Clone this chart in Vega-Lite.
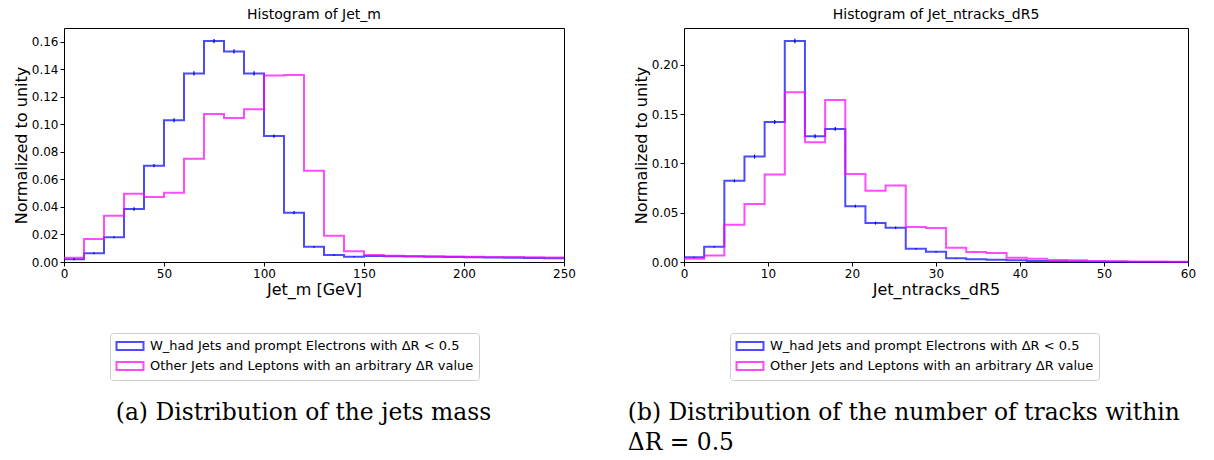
{
  "$schema": "https://vega.github.io/schema/vega-lite/v6.json",
  "background": "white",
  "padding": {"left": 12, "top": 7, "right": 0, "bottom": 0},
  "spacing": 51,
  "datasets": {
    "m": [
      {"series": "W_had Jets and prompt Electrons with ΔR < 0.5", "x": 0, "y": 0.002},
      {"series": "W_had Jets and prompt Electrons with ΔR < 0.5", "x": 10, "y": 0.0063},
      {"series": "W_had Jets and prompt Electrons with ΔR < 0.5", "x": 20, "y": 0.018},
      {"series": "W_had Jets and prompt Electrons with ΔR < 0.5", "x": 30, "y": 0.0385},
      {"series": "W_had Jets and prompt Electrons with ΔR < 0.5", "x": 40, "y": 0.070},
      {"series": "W_had Jets and prompt Electrons with ΔR < 0.5", "x": 50, "y": 0.103},
      {"series": "W_had Jets and prompt Electrons with ΔR < 0.5", "x": 60, "y": 0.137},
      {"series": "W_had Jets and prompt Electrons with ΔR < 0.5", "x": 70, "y": 0.1605},
      {"series": "W_had Jets and prompt Electrons with ΔR < 0.5", "x": 80, "y": 0.153},
      {"series": "W_had Jets and prompt Electrons with ΔR < 0.5", "x": 90, "y": 0.137},
      {"series": "W_had Jets and prompt Electrons with ΔR < 0.5", "x": 100, "y": 0.0915},
      {"series": "W_had Jets and prompt Electrons with ΔR < 0.5", "x": 110, "y": 0.0358},
      {"series": "W_had Jets and prompt Electrons with ΔR < 0.5", "x": 120, "y": 0.011},
      {"series": "W_had Jets and prompt Electrons with ΔR < 0.5", "x": 130, "y": 0.0051},
      {"series": "W_had Jets and prompt Electrons with ΔR < 0.5", "x": 140, "y": 0.0039},
      {"series": "W_had Jets and prompt Electrons with ΔR < 0.5", "x": 150, "y": 0.0043},
      {"series": "W_had Jets and prompt Electrons with ΔR < 0.5", "x": 160, "y": 0.0041},
      {"series": "W_had Jets and prompt Electrons with ΔR < 0.5", "x": 170, "y": 0.0040},
      {"series": "W_had Jets and prompt Electrons with ΔR < 0.5", "x": 180, "y": 0.0038},
      {"series": "W_had Jets and prompt Electrons with ΔR < 0.5", "x": 190, "y": 0.0036},
      {"series": "W_had Jets and prompt Electrons with ΔR < 0.5", "x": 200, "y": 0.0034},
      {"series": "W_had Jets and prompt Electrons with ΔR < 0.5", "x": 210, "y": 0.0033},
      {"series": "W_had Jets and prompt Electrons with ΔR < 0.5", "x": 220, "y": 0.0031},
      {"series": "W_had Jets and prompt Electrons with ΔR < 0.5", "x": 230, "y": 0.0029},
      {"series": "W_had Jets and prompt Electrons with ΔR < 0.5", "x": 240, "y": 0.0027},
      {"series": "W_had Jets and prompt Electrons with ΔR < 0.5", "x": 250, "y": 0.0027},
      {"series": "Other Jets and Leptons with an arbitrary ΔR value", "x": 0, "y": 0.003},
      {"series": "Other Jets and Leptons with an arbitrary ΔR value", "x": 10, "y": 0.0167},
      {"series": "Other Jets and Leptons with an arbitrary ΔR value", "x": 20, "y": 0.0336},
      {"series": "Other Jets and Leptons with an arbitrary ΔR value", "x": 30, "y": 0.0496},
      {"series": "Other Jets and Leptons with an arbitrary ΔR value", "x": 40, "y": 0.0472},
      {"series": "Other Jets and Leptons with an arbitrary ΔR value", "x": 50, "y": 0.0503},
      {"series": "Other Jets and Leptons with an arbitrary ΔR value", "x": 60, "y": 0.075},
      {"series": "Other Jets and Leptons with an arbitrary ΔR value", "x": 70, "y": 0.1075},
      {"series": "Other Jets and Leptons with an arbitrary ΔR value", "x": 80, "y": 0.1046},
      {"series": "Other Jets and Leptons with an arbitrary ΔR value", "x": 90, "y": 0.111},
      {"series": "Other Jets and Leptons with an arbitrary ΔR value", "x": 100, "y": 0.1355},
      {"series": "Other Jets and Leptons with an arbitrary ΔR value", "x": 110, "y": 0.1358},
      {"series": "Other Jets and Leptons with an arbitrary ΔR value", "x": 120, "y": 0.0663},
      {"series": "Other Jets and Leptons with an arbitrary ΔR value", "x": 130, "y": 0.0191},
      {"series": "Other Jets and Leptons with an arbitrary ΔR value", "x": 140, "y": 0.0078},
      {"series": "Other Jets and Leptons with an arbitrary ΔR value", "x": 150, "y": 0.0051},
      {"series": "Other Jets and Leptons with an arbitrary ΔR value", "x": 160, "y": 0.0045},
      {"series": "Other Jets and Leptons with an arbitrary ΔR value", "x": 170, "y": 0.0043},
      {"series": "Other Jets and Leptons with an arbitrary ΔR value", "x": 180, "y": 0.0042},
      {"series": "Other Jets and Leptons with an arbitrary ΔR value", "x": 190, "y": 0.0040},
      {"series": "Other Jets and Leptons with an arbitrary ΔR value", "x": 200, "y": 0.0039},
      {"series": "Other Jets and Leptons with an arbitrary ΔR value", "x": 210, "y": 0.0037},
      {"series": "Other Jets and Leptons with an arbitrary ΔR value", "x": 220, "y": 0.0036},
      {"series": "Other Jets and Leptons with an arbitrary ΔR value", "x": 230, "y": 0.0034},
      {"series": "Other Jets and Leptons with an arbitrary ΔR value", "x": 240, "y": 0.0032},
      {"series": "Other Jets and Leptons with an arbitrary ΔR value", "x": 250, "y": 0.0032}
    ],
    "m_err": [
      {"x": 5, "lo": 0.0013, "hi": 0.0027},
      {"x": 15, "lo": 0.0056, "hi": 0.0070},
      {"x": 25, "lo": 0.0173, "hi": 0.0187},
      {"x": 35, "lo": 0.0373, "hi": 0.0397},
      {"x": 45, "lo": 0.0688, "hi": 0.0712},
      {"x": 55, "lo": 0.1015, "hi": 0.1045},
      {"x": 65, "lo": 0.1355, "hi": 0.1385},
      {"x": 75, "lo": 0.159, "hi": 0.162},
      {"x": 85, "lo": 0.1515, "hi": 0.1545},
      {"x": 95, "lo": 0.1355, "hi": 0.1385},
      {"x": 105, "lo": 0.0903, "hi": 0.0927},
      {"x": 115, "lo": 0.0346, "hi": 0.037},
      {"x": 125, "lo": 0.0103, "hi": 0.0117},
      {"x": 135, "lo": 0.0046, "hi": 0.0056},
      {"x": 145, "lo": 0.0035, "hi": 0.0043}
    ],
    "nt": [
      {"series": "W_had Jets and prompt Electrons with ΔR < 0.5", "x": 0, "y": 0.0047},
      {"series": "W_had Jets and prompt Electrons with ΔR < 0.5", "x": 2.4, "y": 0.0155},
      {"series": "W_had Jets and prompt Electrons with ΔR < 0.5", "x": 4.8, "y": 0.0824},
      {"series": "W_had Jets and prompt Electrons with ΔR < 0.5", "x": 7.2, "y": 0.107},
      {"series": "W_had Jets and prompt Electrons with ΔR < 0.5", "x": 9.6, "y": 0.142},
      {"series": "W_had Jets and prompt Electrons with ΔR < 0.5", "x": 12, "y": 0.2243},
      {"series": "W_had Jets and prompt Electrons with ΔR < 0.5", "x": 14.4, "y": 0.1277},
      {"series": "W_had Jets and prompt Electrons with ΔR < 0.5", "x": 16.8, "y": 0.1351},
      {"series": "W_had Jets and prompt Electrons with ΔR < 0.5", "x": 19.2, "y": 0.0567},
      {"series": "W_had Jets and prompt Electrons with ΔR < 0.5", "x": 21.6, "y": 0.0395},
      {"series": "W_had Jets and prompt Electrons with ΔR < 0.5", "x": 24, "y": 0.0348},
      {"series": "W_had Jets and prompt Electrons with ΔR < 0.5", "x": 26.4, "y": 0.0135},
      {"series": "W_had Jets and prompt Electrons with ΔR < 0.5", "x": 28.8, "y": 0.0104},
      {"series": "W_had Jets and prompt Electrons with ΔR < 0.5", "x": 31.2, "y": 0.0037},
      {"series": "W_had Jets and prompt Electrons with ΔR < 0.5", "x": 33.6, "y": 0.0027},
      {"series": "W_had Jets and prompt Electrons with ΔR < 0.5", "x": 36, "y": 0.0023},
      {"series": "W_had Jets and prompt Electrons with ΔR < 0.5", "x": 38.4, "y": 0.0017},
      {"series": "W_had Jets and prompt Electrons with ΔR < 0.5", "x": 40.8, "y": 0.001},
      {"series": "W_had Jets and prompt Electrons with ΔR < 0.5", "x": 43.2, "y": 0.0007},
      {"series": "W_had Jets and prompt Electrons with ΔR < 0.5", "x": 45.6, "y": 0.0005},
      {"series": "W_had Jets and prompt Electrons with ΔR < 0.5", "x": 48, "y": 0.0003},
      {"series": "W_had Jets and prompt Electrons with ΔR < 0.5", "x": 50.4, "y": 0.0002},
      {"series": "W_had Jets and prompt Electrons with ΔR < 0.5", "x": 52.8, "y": 0.0001},
      {"series": "W_had Jets and prompt Electrons with ΔR < 0.5", "x": 55.2, "y": 0.0001},
      {"series": "W_had Jets and prompt Electrons with ΔR < 0.5", "x": 57.6, "y": 0.0001},
      {"series": "W_had Jets and prompt Electrons with ΔR < 0.5", "x": 60, "y": 0.0001},
      {"series": "Other Jets and Leptons with an arbitrary ΔR value", "x": 0, "y": 0.0033},
      {"series": "Other Jets and Leptons with an arbitrary ΔR value", "x": 2.4, "y": 0.0067},
      {"series": "Other Jets and Leptons with an arbitrary ΔR value", "x": 4.8, "y": 0.0378},
      {"series": "Other Jets and Leptons with an arbitrary ΔR value", "x": 7.2, "y": 0.0588},
      {"series": "Other Jets and Leptons with an arbitrary ΔR value", "x": 9.6, "y": 0.0888},
      {"series": "Other Jets and Leptons with an arbitrary ΔR value", "x": 12, "y": 0.1723},
      {"series": "Other Jets and Leptons with an arbitrary ΔR value", "x": 14.4, "y": 0.1216},
      {"series": "Other Jets and Leptons with an arbitrary ΔR value", "x": 16.8, "y": 0.1645},
      {"series": "Other Jets and Leptons with an arbitrary ΔR value", "x": 19.2, "y": 0.0892},
      {"series": "Other Jets and Leptons with an arbitrary ΔR value", "x": 21.6, "y": 0.0723},
      {"series": "Other Jets and Leptons with an arbitrary ΔR value", "x": 24, "y": 0.0777},
      {"series": "Other Jets and Leptons with an arbitrary ΔR value", "x": 26.4, "y": 0.0355},
      {"series": "Other Jets and Leptons with an arbitrary ΔR value", "x": 28.8, "y": 0.0345},
      {"series": "Other Jets and Leptons with an arbitrary ΔR value", "x": 31.2, "y": 0.0145},
      {"series": "Other Jets and Leptons with an arbitrary ΔR value", "x": 33.6, "y": 0.0101},
      {"series": "Other Jets and Leptons with an arbitrary ΔR value", "x": 36, "y": 0.0092},
      {"series": "Other Jets and Leptons with an arbitrary ΔR value", "x": 38.4, "y": 0.0044},
      {"series": "Other Jets and Leptons with an arbitrary ΔR value", "x": 40.8, "y": 0.0033},
      {"series": "Other Jets and Leptons with an arbitrary ΔR value", "x": 43.2, "y": 0.002},
      {"series": "Other Jets and Leptons with an arbitrary ΔR value", "x": 45.6, "y": 0.0017},
      {"series": "Other Jets and Leptons with an arbitrary ΔR value", "x": 48, "y": 0.001},
      {"series": "Other Jets and Leptons with an arbitrary ΔR value", "x": 50.4, "y": 0.0007},
      {"series": "Other Jets and Leptons with an arbitrary ΔR value", "x": 52.8, "y": 0.0005},
      {"series": "Other Jets and Leptons with an arbitrary ΔR value", "x": 55.2, "y": 0.0004},
      {"series": "Other Jets and Leptons with an arbitrary ΔR value", "x": 57.6, "y": 0.0003},
      {"series": "Other Jets and Leptons with an arbitrary ΔR value", "x": 60, "y": 0.0003}
    ],
    "nt_err": [
      {"x": 1.2, "lo": 0.0041, "hi": 0.0053},
      {"x": 3.6, "lo": 0.0147, "hi": 0.0163},
      {"x": 6.0, "lo": 0.0809, "hi": 0.0839},
      {"x": 8.4, "lo": 0.105, "hi": 0.109},
      {"x": 10.8, "lo": 0.140, "hi": 0.144},
      {"x": 13.2, "lo": 0.2221, "hi": 0.2265},
      {"x": 15.6, "lo": 0.1257, "hi": 0.1297},
      {"x": 18.0, "lo": 0.1331, "hi": 0.1371},
      {"x": 20.4, "lo": 0.0552, "hi": 0.0582},
      {"x": 22.8, "lo": 0.038, "hi": 0.041},
      {"x": 25.2, "lo": 0.0335, "hi": 0.0361},
      {"x": 27.6, "lo": 0.0127, "hi": 0.0143},
      {"x": 30.0, "lo": 0.0097, "hi": 0.0111},
      {"x": 32.4, "lo": 0.0033, "hi": 0.0041}
    ]
  },
  "hconcat": [
    {
      "title": {"text": "(a) Distribution of the jets mass", "orient": "bottom", "anchor": "start", "frame": "bounds", "dx": 103, "offset": 21, "font": "DejaVu Serif", "fontSize": 23.4, "fontWeight": "normal", "color": "black"},
      "resolve": {"scale": {"color": "independent"}, "legend": {"color": "independent"}},
      "vconcat": [
        {
          "title": {"text": "Histogram of Jet_m", "font": "DejaVu Sans", "fontSize": 14, "fontWeight": "normal", "offset": 6, "color": "black"},
          "width": 500,
          "height": 234,
          "layer": [
            {
              "data": {"name": "m"},
              "mark": {"type": "line", "interpolate": "step-after", "strokeWidth": 2, "opacity": 0.7},
              "encoding": {
                "x": {"field": "x", "type": "quantitative", "scale": {"domain": [0, 250], "nice": false, "zero": false}, "axis": {"title": "Jet_m [GeV]", "values": [0, 50, 100, 150, 200, 250], "tickCount": 20, "labelOverlap": false}},
                "y": {"field": "y", "type": "quantitative", "scale": {"domain": [0, 0.17], "nice": false}, "axis": {"title": "Normalized to unity", "values": [0, 0.02, 0.04, 0.06, 0.08, 0.1, 0.12, 0.14, 0.16], "tickCount": 20, "format": ".2f", "labelOverlap": false}},
                "color": {"field": "series", "type": "nominal", "scale": {"domain": ["W_had Jets and prompt Electrons with ΔR < 0.5", "Other Jets and Leptons with an arbitrary ΔR value"], "range": ["#0000ff", "#ff00ff"]}, "legend": {"title": null, "orient": "none", "legendX": 46, "legendY": 305}},
                "order": {"field": "x", "type": "quantitative"}
              }
            },
            {
              "data": {"name": "m_err"},
              "mark": {"type": "rule", "color": "#0000c8", "strokeWidth": 1.2},
              "encoding": {
                "x": {"field": "x", "type": "quantitative"},
                "y": {"field": "lo", "type": "quantitative"},
                "y2": {"field": "hi"}
              }
            }
          ]
        }
      ]
    },
    {
      "title": {"text": ["(b) Distribution of the number of tracks within", "ΔR = 0.5"], "orient": "bottom", "anchor": "start", "frame": "bounds", "dx": -5, "offset": 21, "lineHeight": 30, "font": "DejaVu Serif", "fontSize": 23.4, "fontWeight": "normal", "color": "black"},
      "resolve": {"scale": {"color": "independent"}, "legend": {"color": "independent"}},
      "vconcat": [
        {
          "title": {"text": "Histogram of Jet_ntracks_dR5", "font": "DejaVu Sans", "fontSize": 14, "fontWeight": "normal", "offset": 6, "color": "black"},
          "width": 504,
          "height": 234,
          "layer": [
            {
              "data": {"name": "nt"},
              "mark": {"type": "line", "interpolate": "step-after", "strokeWidth": 2, "opacity": 0.7},
              "encoding": {
                "x": {"field": "x", "type": "quantitative", "scale": {"domain": [0, 60], "nice": false, "zero": false}, "axis": {"title": "Jet_ntracks_dR5", "values": [0, 10, 20, 30, 40, 50, 60], "tickCount": 20, "labelOverlap": false}},
                "y": {"field": "y", "type": "quantitative", "scale": {"domain": [0, 0.2375], "nice": false}, "axis": {"title": "Normalized to unity", "values": [0, 0.05, 0.1, 0.15, 0.2], "tickCount": 20, "format": ".2f", "labelOverlap": false}},
                "color": {"field": "series", "type": "nominal", "scale": {"domain": ["W_had Jets and prompt Electrons with ΔR < 0.5", "Other Jets and Leptons with an arbitrary ΔR value"], "range": ["#0000ff", "#ff00ff"]}, "legend": {"title": null, "orient": "none", "legendX": 46, "legendY": 305}},
                "order": {"field": "x", "type": "quantitative"}
              }
            },
            {
              "data": {"name": "nt_err"},
              "mark": {"type": "rule", "color": "#0000c8", "strokeWidth": 1.2},
              "encoding": {
                "x": {"field": "x", "type": "quantitative"},
                "y": {"field": "lo", "type": "quantitative"},
                "y2": {"field": "hi"}
              }
            }
          ]
        }
      ]
    }
  ],
  "resolve": {"scale": {"color": "independent"}, "legend": {"color": "independent"}},
  "config": {
    "view": {"stroke": "#000000", "strokeWidth": 1},
    "axis": {
      "domain": false,
      "grid": false,
      "ticks": true,
      "tickColor": "#000000",
      "tickSize": 4,
      "labelFont": "DejaVu Sans",
      "labelFontSize": 12,
      "labelColor": "#000000",
      "labelPadding": 2,
      "labelFlush": false,
      "labelOverlap": false,
      "titleFont": "DejaVu Sans",
      "titleFontSize": 16,
      "titleFontWeight": "normal",
      "titleColor": "#000000",
      "titlePadding": 2
    },
    "legend": {
      "strokeColor": "#cccccc",
      "fillColor": "white",
      "padding": 5,
      "cornerRadius": 3,
      "labelFont": "DejaVu Sans",
      "labelFontSize": 13,
      "labelColor": "#000000",
      "labelLimit": 0,
      "labelOffset": 12,
      "rowPadding": 2,
      "symbolOffset": 7,
      "symbolType": "M-2,-0.6H2V0.6H-2Z",
      "symbolSize": 182,
      "symbolStrokeWidth": 2,
      "symbolOpacity": 0.7
    }
  }
}
